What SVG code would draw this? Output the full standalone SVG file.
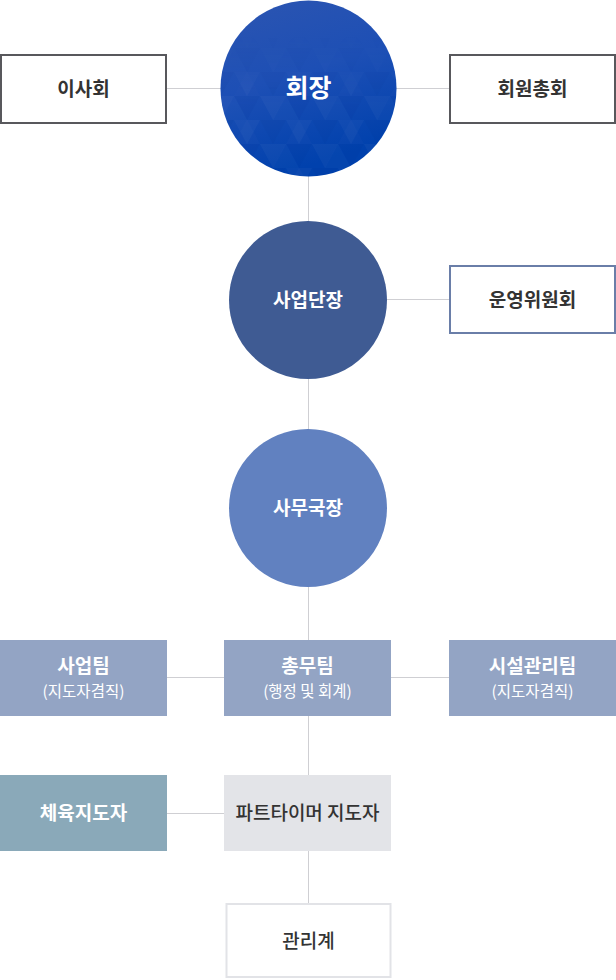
<svg xmlns="http://www.w3.org/2000/svg" width="616" height="980" viewBox="0 0 616 980">
<style>
.t{font-family:"Noto Sans CJK KR","Noto Sans",sans-serif;text-anchor:middle}
.w{fill:#fff;font-weight:bold}
.d{fill:#333;font-weight:bold}
.s{fill:#fff;font-size:15.5px;font-weight:normal}
.ln{stroke:#cfcfd3;stroke-width:1;fill:none}
</style>
<defs>
<linearGradient id="g1" x1="0" y1="0" x2="0.3" y2="1">
<stop offset="0" stop-color="#2c55b1"/>
<stop offset="0.5" stop-color="#1d4fb5"/>
<stop offset="1" stop-color="#0041ad"/>
</linearGradient>
<pattern id="tri" width="52" height="48" patternUnits="userSpaceOnUse">
<polygon points="0,0 26,0 13,24" fill="#ffffff" fill-opacity="0.035"/>
<polygon points="26,0 52,0 39,24" fill="#001f80" fill-opacity="0.06"/>
<polygon points="13,24 39,24 26,0" fill="#5a80d0" fill-opacity="0.06"/>
<polygon points="0,24 26,24 13,48" fill="#001f80" fill-opacity="0.05"/>
<polygon points="26,24 52,24 39,48" fill="#ffffff" fill-opacity="0.03"/>
<polygon points="39,24 52,48 26,48" fill="#5a80d0" fill-opacity="0.05"/>
</pattern>
<linearGradient id="fade" x1="0" y1="0" x2="0" y2="1">
<stop offset="0.2" stop-color="#fff" stop-opacity="0"/>
<stop offset="0.6" stop-color="#fff" stop-opacity="1"/>
</linearGradient>
<mask id="m1" maskContentUnits="objectBoundingBox"><rect width="1" height="1" fill="url(#fade)"/></mask>
</defs>
<g id="connectors">
<line class="ln" x1="308.5" y1="170" x2="308.5" y2="904"/>
<line class="ln" x1="166" y1="88.5" x2="450" y2="88.5"/>
<line class="ln" x1="380" y1="299.5" x2="450" y2="299.5"/>
<line class="ln" x1="166" y1="677.5" x2="450" y2="677.5"/>
<line class="ln" x1="166" y1="813.5" x2="224" y2="813.5"/>
</g>
<g id="n-board">
<rect x="1" y="55" width="165" height="68" fill="#fff" stroke="#58585c" stroke-width="2"/>
<text class="t d" x="83.5" y="96" font-size="19">이사회</text>
</g>
<g id="n-chair">
<circle cx="308.5" cy="88.5" r="88" fill="url(#g1)"/>
<circle cx="308.5" cy="88.5" r="88" fill="url(#tri)" mask="url(#m1)"/>
<text class="t w" x="308.5" y="97" font-size="25">회장</text>
</g>
<g id="n-general">
<rect x="450" y="55" width="165" height="68" fill="#fff" stroke="#58585c" stroke-width="2"/>
<text class="t d" x="532.5" y="96" font-size="19">회원총회</text>
</g>
<g id="n-director">
<circle cx="308" cy="300" r="79" fill="#3f5b93"/>
<text class="t w" x="308" y="306.5" font-size="19">사업단장</text>
</g>
<g id="n-committee">
<rect x="450" y="266" width="165" height="67" fill="#fff" stroke="#6a7ea8" stroke-width="2"/>
<text class="t d" x="532.5" y="306.5" font-size="19">운영위원회</text>
</g>
<g id="n-secretary">
<circle cx="308" cy="508" r="79" fill="#6181c0"/>
<text class="t w" x="308" y="514.5" font-size="19">사무국장</text>
</g>
<g id="n-biz">
<rect x="0" y="640" width="167" height="76" fill="#93a4c4"/>
<text class="t w" x="83.5" y="673" font-size="19">사업팀</text>
<text class="t s" x="83.5" y="697">(지도자겸직)</text>
</g>
<g id="n-admin">
<rect x="224" y="640" width="167" height="76" fill="#93a4c4"/>
<text class="t w" x="307.5" y="673" font-size="19">총무팀</text>
<text class="t s" x="307.5" y="697">(행정 및 회계)</text>
</g>
<g id="n-facility">
<rect x="449" y="640" width="167" height="76" fill="#93a4c4"/>
<text class="t w" x="532.5" y="673" font-size="19">시설관리팀</text>
<text class="t s" x="532.5" y="697">(지도자겸직)</text>
</g>
<g id="n-coach">
<rect x="0" y="775" width="167" height="76" fill="#8aa9b9"/>
<text class="t w" x="83.5" y="820" font-size="19">체육지도자</text>
</g>
<g id="n-parttime">
<rect x="224" y="775" width="167" height="76" fill="#e3e4e8"/>
<text class="t d" x="307.5" y="820" font-size="19" style="font-weight:500">파트타이머 지도자</text>
</g>
<g id="n-manage">
<rect x="226.5" y="904" width="164" height="73" fill="#fff" stroke="#e2e3e7" stroke-width="2"/>
<text class="t d" x="308.5" y="948" font-size="19" style="font-weight:500">관리계</text>
</g>
</svg>
